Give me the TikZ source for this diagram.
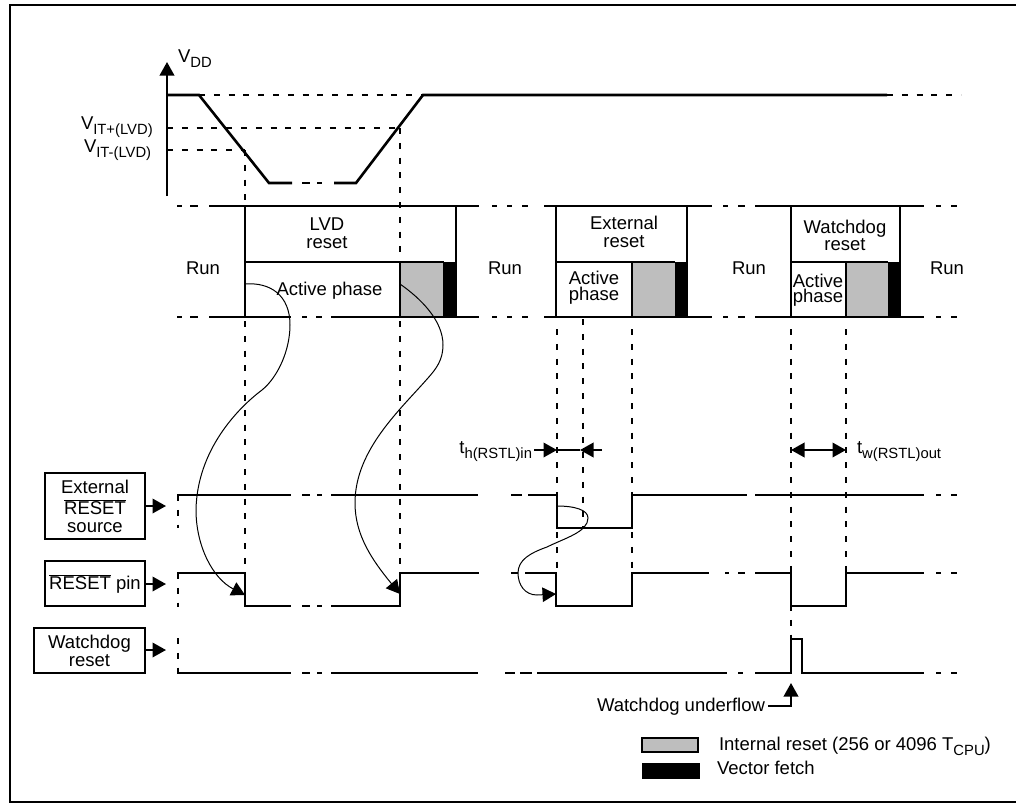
\documentclass[tikz,border=0pt]{standalone}
\usepackage{fontspec}
\setmainfont{Liberation Sans}
\usetikzlibrary{arrows.meta}
\definecolor{rstgrey}{HTML}{BEBEBE}
\newcommand{\subt}[1]{\raisebox{-5pt}{\fontsize{14.8}{16}\selectfont #1}}
\newcommand{\rst}{$\overline{\hbox{RESET}}$}
\tikzset{
  every node/.style={font=\fontsize{18.5}{20}\selectfont, inner sep=0pt, outer sep=0pt},
  >={Triangle[length=13.5pt,width=14.5pt]},
  sig/.style={line width=2.2pt, line cap=butt, line join=miter},
  vddline/.style={line width=2.6pt, line join=miter},
  guide/.style={line width=2.2pt, dash pattern=on 6pt off 8.8pt},
  curve/.style={line width=1pt},
  lbl/.style={anchor=base},
  lblw/.style={anchor=base west},
  twoline/.style={anchor=center, align=center},
  sigbox/.style={draw, line width=2pt, align=center, outer sep=1pt},
}
\begin{document}
\begin{tikzpicture}[x=1pt,y=-1pt]
\useasboundingbox (0,0) rectangle (1016,803);
\fill[white] (0,0) rectangle (1016,803);
% frame
\draw[line width=2.2pt] (1016,5) -- (10,5) -- (10,802) -- (1016,802);

% filled phases
\fill[rstgrey] (400,262) rectangle (443,317);
\fill[black] (443,262) rectangle (457,317);
\fill[rstgrey] (632,262) rectangle (675,317);
\fill[black] (675,262) rectangle (688,317);
\fill[rstgrey] (846,262) rectangle (888,317);
\fill[black] (888,262) rectangle (901,317);

% guides
\draw[guide] (199,95) -- (423,95);
\draw[guide] (887,95) -- (961,95);
\draw[guide] (167,128) -- (400,128);
\draw[guide] (167,150) -- (245,150);
\draw[guide] (245,150) -- (245,206);
\draw[guide] (400,128) -- (400,262);
\draw[guide] (245,321) -- (245,573);
\draw[guide] (400,321) -- (400,573);
\draw[guide] (557,329) -- (557,494);
\draw[guide] (557,532) -- (557,573);
\draw[guide] (583,319) -- (583,527);
\draw[guide] (632,329) -- (632,494);
\draw[guide] (632,532) -- (632,573);
\draw[guide] (791,329) -- (791,573);
\draw[guide] (791,605) -- (791,638);
\draw[guide] (846,329) -- (846,573);
\draw[guide] (178,495) -- (178,528);
\draw[guide] (178,573) -- (178,607);
\draw[guide] (178,638) -- (178,673);

% VDD axis and trace
\coordinate (axb) at (167,196);
\coordinate (axt) at (167,62);
\draw[line width=2pt,->] (axb) -- (axt);
\draw[vddline] (167,95) -- (199,95) -- (269,183) -- (292,183);
\draw[vddline] (302,183) -- (310,183) (317,183) -- (322,183);
\draw[vddline] (334,183) -- (356,183) -- (423,95) -- (887,95);

% phase rows
\foreach \yy in {206,317}{
  \draw[sig] (177,\yy) -- (182,\yy) (190,\yy) -- (198,\yy);
  \draw[sig] (492,\yy) -- (497,\yy) (507,\yy) -- (512,\yy) (522,\yy) -- (528,\yy);
  \draw[sig] (544,\yy) -- (712,\yy);
  \draw[sig] (723,\yy) -- (728,\yy) (738,\yy) -- (745,\yy);
  \draw[sig] (755,\yy) -- (924,\yy);
  \draw[sig] (936,\yy) -- (941,\yy) (951,\yy) -- (957,\yy);
}
\draw[sig] (209,206) -- (479,206);
\draw[sig] (209,317) -- (291,317) (302,317) -- (307,317) (316,317) -- (322,317) (331,317) -- (479,317);
\draw[sig] (245,206) -- (245,317);
\draw[sig] (456,206) -- (456,317);
\draw[sig] (245,262) -- (444,262);
\draw[sig] (400,261) -- (400,317);
\draw[sig] (556,206) -- (556,317);
\draw[sig] (687,206) -- (687,317);
\draw[sig] (556,262) -- (675,262);
\draw[sig] (632,261) -- (632,317);
\draw[sig] (791,206) -- (791,317);
\draw[sig] (900,206) -- (900,317);
\draw[sig] (791,262) -- (888,262);
\draw[sig] (846,261) -- (846,317);

% phase labels
\node[twoline] (lvd) at (327,233) {LVD\\[-2pt]reset};
\node[lbl] (run1) at (203,274) {Run};
\node[lbl] (lvdap) at (329.5,295) {Active phase};
\node[lbl] (run2) at (505,274) {Run};
\node[twoline] (ex) at (624,232) {External\\[-2pt]reset};
\node[twoline] (exa) at (594,288) {Active\\[-4pt]phase};
\node[lbl] (run3) at (749,274) {Run};
\node[twoline] (wd) at (845,235) {Watchdog\\[-3pt]reset};
\node[twoline] (wda) at (818,290) {Active\\[-5pt]phase};
\node[lbl] (run4) at (947,274) {Run};

% voltage labels
\node[lblw] (vdd) at (178,62) {V\subt{DD}};
\node[lblw] (vitp) at (81,129) {V\subt{IT+(LVD)}};
\node[lblw] (vitm) at (84,152) {V\subt{IT-(LVD)}};

% external RESET source signal
\draw[sig] (177,495) -- (291,495) (302,495) -- (310,495) (317,495) -- (322,495) (331,495) -- (478,495);
\draw[sig] (511,495) -- (522,495);
\draw[sig] (528,495) -- (557,495) -- (557,528) -- (632,528) -- (632,495) -- (747,495);
\draw[sig] (755,495) -- (924,495);
\draw[sig] (936,495) -- (941,495) (951,495) -- (957,495);

% RESET pin signal
\draw[sig] (177,573) -- (245,573) -- (245,606) -- (291,606);
\draw[sig] (302,606) -- (310,606) (317,606) -- (322,606);
\draw[sig] (331,606) -- (400,606) -- (400,573) -- (479,573);
\draw[sig] (511,573) -- (518,573);
\draw[sig] (525,573) -- (556,573) -- (556,606) -- (632,606) -- (632,573) -- (709,573);
\draw[sig] (725,573) -- (729,573) (738,573) -- (745,573);
\draw[sig] (755,573) -- (791,573) -- (791,606) -- (846,606) -- (846,573) -- (924,573);
\draw[sig] (936,573) -- (941,573) (951,573) -- (957,573);

% Watchdog reset signal
\draw[sig] (177,673) -- (291,673) (302,673) -- (310,673) (317,673) -- (322,673) (331,673) -- (478,673);
\draw[sig] (505,673) -- (515,673) (520,673) -- (532,673);
\draw[sig] (537,673) -- (727,673) (738,673) -- (743,673);
\draw[sig] (755,673) -- (791,673) -- (791,639) -- (802,639) -- (802,673) -- (924,673);
\draw[sig] (936,673) -- (941,673) (951,673) -- (957,673);

% source boxes
\node[sigbox, minimum width=100pt, minimum height=66pt] (ext) at (95,506) {External\\[1pt]\rst\\[-2pt]source};
\node[sigbox, minimum width=100pt, minimum height=45pt] (pin) at (95,583.5) {\rst{} pin};
\node[sigbox, minimum width=111pt, minimum height=45pt] (wdg) at (89.5,650.5) {Watchdog\\[-2pt]reset};
\coordinate (extin) at (166,506);
\coordinate (pinin) at (166,584);
\coordinate (wdgin) at (166,650);
\draw[line width=2pt,->] (ext.east |- extin) -- (extin);
\draw[line width=2pt,->] (pin.east |- pinin) -- (pinin);
\draw[line width=2pt,->] (wdg.east |- wdgin) -- (wdgin);

% causal curves
\coordinate (c1s) at (245,284);
\coordinate (c1e) at (245,595);
\coordinate (c2s) at (400,284);
\coordinate (c2e) at (400,594);
\coordinate (c3s) at (557,506);
\coordinate (c3e) at (556,594);
\draw[curve,->] (c1s) .. controls (270,282) and (290,295) .. (290,325)
  .. controls (290,350) and (278,377) .. (262,390)
  .. controls (238,408) and (197,450) .. (196,510)
  .. controls (196,545) and (212,578) .. (c1e);
\draw[curve,->] (c2s) .. controls (420,298) and (443,320) .. (443,345)
  .. controls (443,360) and (436,369) .. (428,378)
  .. controls (400,410) and (355,450) .. (355,503)
  .. controls (355,535) and (372,560) .. (c2e);
\draw[curve,->] (c3s) .. controls (575,506) and (588,510) .. (588,518)
  .. controls (588,532) and (565,538) .. (547,547)
  .. controls (530,553) and (518,560) .. (518,573)
  .. controls (518,585) and (525,595) .. (537,595)
  -- (c3e);

% timing arrows
\coordinate (th0) at (534,450);
\coordinate (th1) at (557,450);
\coordinate (th2) at (580,450);
\coordinate (th3) at (602,450);
\draw[line width=2pt,->] (th0) -- (th1);
\draw[line width=2pt] (th1) -- (th2);
\draw[line width=2pt,->] (th3) -- (th2);
\node[anchor=base east] (thl) at (532,453) {t\subt{h(RSTL)in}};
\coordinate (tw0) at (791,450);
\coordinate (tw1) at (846,450);
\draw[line width=2pt,<->] (tw0) -- (tw1);
\node[lblw] (twl) at (857,453) {t\subt{w(RSTL)out}};

% watchdog underflow
\node[anchor=base west] (wu) at (597,711) {Watchdog underflow};
\coordinate (wutip) at (791,683);
\draw[line width=2pt,->] (768,706) -- (791,706) -- (wutip);

% legend
\node[draw, line width=2pt, fill=rstgrey, minimum width=56pt, minimum height=14pt] (lg1) at (670,745) {};
\node[fill=black, minimum width=58pt, minimum height=16pt] (lg2) at (671,771) {};
\node[lblw] (lg1t) at (719,750) {Internal reset (256 or 4096 T\subt{CPU})};
\node[lblw] (lg2t) at (717,774) {Vector fetch};
\end{tikzpicture}
\end{document}
